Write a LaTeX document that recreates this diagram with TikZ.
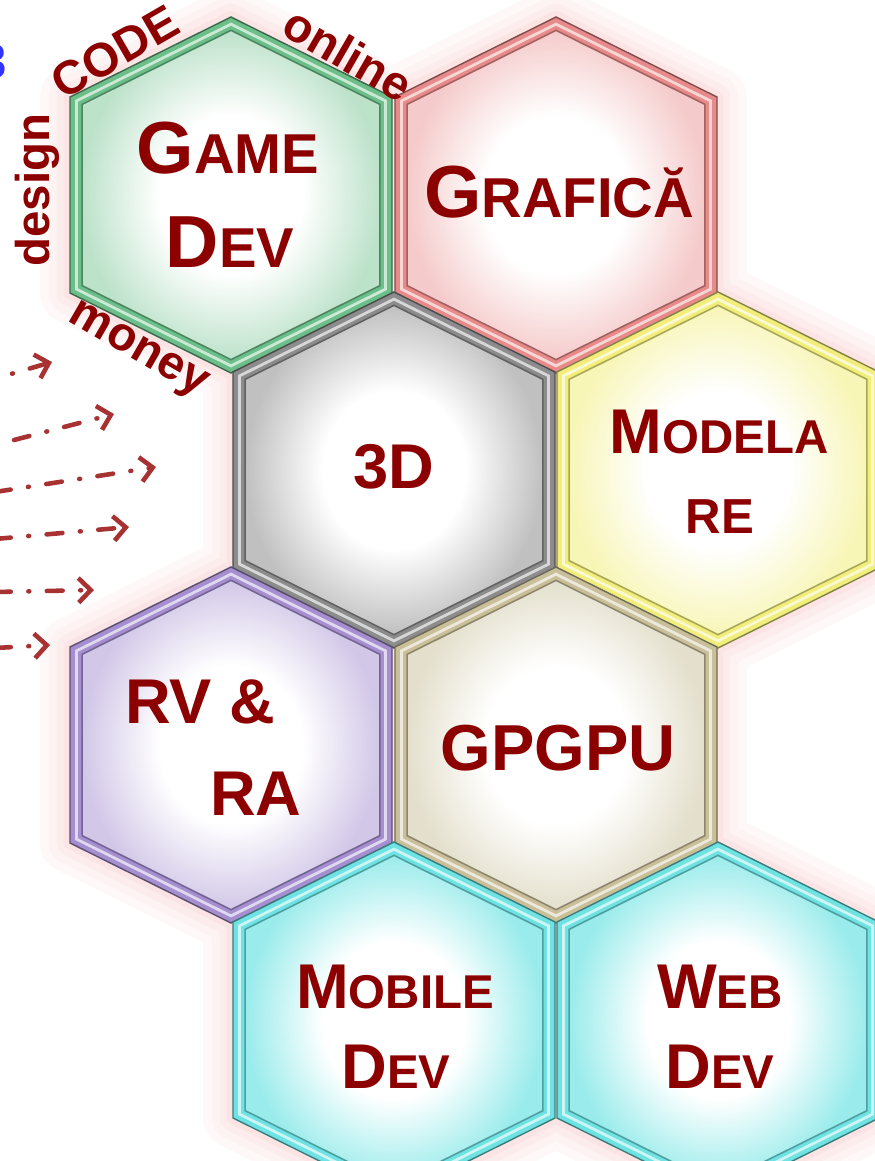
\documentclass[tikz,border=0pt]{standalone}
\usepackage{fontspec}
\setmainfont{Liberation Sans}
\usepackage{xcolor}
\usetikzlibrary{arrows.meta}

\definecolor{txtred}{HTML}{8C0000}
\definecolor{arrred}{HTML}{A83232}
\definecolor{glowpink}{HTML}{F07878}
\definecolor{hexgreen}{HTML}{6DBF8A}
\definecolor{hexred}{HTML}{E98A8A}
\definecolor{hexgray}{HTML}{8C8C8C}
\definecolor{hexyellow}{HTML}{F2EE7C}
\definecolor{hexpurple}{HTML}{A58FD0}
\definecolor{hexkhaki}{HTML}{C9C09A}
\definecolor{hexcyan}{HTML}{6FE3E3}

\colorlet{hexin}{white}
\pgfdeclareradialshading[hexin]{hexfill}{\pgfpointorigin}{color(0bp)=(white); color(12bp)=(white); color(25bp)=(hexin); color(50bp)=(hexin)}

\newcommand{\hexpath}{(0,-178) -- (161,-98) -- (161,98) -- (0,178) -- (-161,98) -- (-161,-98) -- cycle}
\newcommand{\capword}[4]{{\fontsize{#3}{#3}\selectfont #1}{\fontsize{#4}{#4}\selectfont #2}}

\tikzset{
  celltext/.style={text=txtred, font=\bfseries, anchor=base, inner sep=0pt},
  sideword/.style={text=txtred, font=\bfseries\fontsize{27}{27}\selectfont, inner sep=0pt},
  flowarrow/.style={arrred, line width=2.6pt, line cap=round,
    dash pattern=on 9pt off 10pt on 0.5pt off 10pt,
    -{Straight Barb[length=7pt, width=14pt, line width=2.6pt]}}
}

\begin{document}
\begin{tikzpicture}[x=0.02cm, y=-0.02cm]

	% Page
	\fill[white] (0,0) rectangle (875,1161);
	\useasboundingbox (0,0) rectangle (875,1161);

	% Pink glow round the cells
	\foreach \w/\g in {34/5, 24/9, 15/14, 7/20}{
		\foreach \cx/\cy in {231/195, 556/195, 394/470, 718/470, 231/745, 556/745, 394/1020, 718/1020}{
			\draw[glowpink!\g, line width=\w pt, line join=round, shift={(\cx,\cy)}] \hexpath;
		}
	}

	% The cells
	\foreach \cx/\cy/\col/\mix in {231/195/hexgreen/45, 556/195/hexred/45, 394/470/hexgray/55, 718/470/hexyellow/55,
		231/745/hexpurple/50, 556/745/hexkhaki/50, 394/1020/hexcyan/70, 718/1020/hexcyan/70}{
		\begin{scope}[shift={(\cx,\cy)}]
			\fill[\col, draw=\col!55!black, line width=0.8pt] \hexpath;
			\draw[\col!35, line width=1.6pt, scale=0.96] \hexpath;
			\colorlet{hexin}{\col!\mix}
			\shadedraw[shading=hexfill, draw=\col!70!black, line width=0.9pt, scale=0.925] \hexpath;
		\end{scope}
	}

	% Cell labels
	\node[celltext] (game1) at (228,173) {\capword{G}{AME}{42}{32}};
	\node[celltext] (game2) at (230,267) {\capword{D}{EV}{42}{32}};
	\node[celltext] (grafica) at (559,217) {\capword{G}{RAFICĂ}{42}{32}};
	\node[celltext, font=\bfseries\fontsize{36}{36}\selectfont] (threed) at (394,488) {3D};
	\node[celltext] (model1) at (719,453) {\capword{M}{ODELA}{36}{27}};
	\node[celltext, font=\bfseries\fontsize{28}{28}\selectfont] (model2) at (720,533) {RE};
	\node[celltext, font=\bfseries\fontsize{36}{36}\selectfont] (rv) at (200,723) {RV \&};
	\node[celltext, font=\bfseries\fontsize{36}{36}\selectfont] (ra) at (256,815) {RA};
	\node[celltext, font=\bfseries\fontsize{37}{37}\selectfont] (gpgpu) at (558,770) {GPGPU};
	\node[celltext] (mobile1) at (395,1008) {\capword{M}{OBILE}{36}{27}};
	\node[celltext] (mobile2) at (396,1088) {\capword{D}{EV}{36}{27}};
	\node[celltext] (web1) at (720,1008) {\capword{W}{EB}{36}{27}};
	\node[celltext] (web2) at (720,1088) {\capword{D}{EV}{36}{27}};

	% Words round the first cell
	\node[sideword, rotate=30] (wcode) at (115,52) {CODE};
	\node[sideword, rotate=-30] (wonline) at (348,54) {online};
	\node[sideword, rotate=90] (wdesign) at (37,190) {design};
	\node[sideword, rotate=-30] (wmoney) at (137,352) {money};
	\node[text=blue!80, font=\bfseries\fontsize{28}{28}\selectfont, inner sep=0pt] (blue3) at (-7,62) {3};

	% Arrows coming in from the left
	\foreach \i/\sx/\sy/\tx/\ty in {1/-20/383/52/362, 2/14/440/114/414, 3/-5/492/156/467,
		4/-5/539/129/527, 5/-5/592/94/590, 6/-5/648/50/645}{
		\coordinate (s\i) at (\sx,\sy);
		\coordinate (t\i) at (\tx,\ty);
		\draw[flowarrow] (s\i) -- (t\i);
	}

\end{tikzpicture}
\end{document}
